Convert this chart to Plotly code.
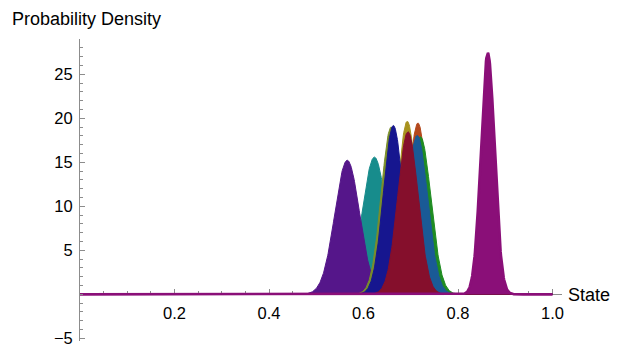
import numpy as np
import plotly.graph_objects as go

# Distribution parameters (drawing order: back to front)
names = ["teal", "purple", "yellowgreen", "olive", "orange", "green", "steelblue", "blue", "crimson", "magenta"]
means = [0.623, 0.5655, 0.6585, 0.6925, 0.715, 0.7205, 0.7136, 0.663, 0.694, 0.863]
sds = [0.0256, 0.0262, 0.0210, 0.0203, 0.0205, 0.0223, 0.0221, 0.0208, 0.0216, 0.01455]
colors = ["#178c8c", "#55168a", "#7a8e2a", "#a8921e", "#b4481c", "#1f8c22", "#1a5a96", "#16168f", "#850f2c", "#8a0f78"]
line_widths = [1, 1, 1, 1, 1, 1, 1, 1, 1, 2.6]

x_tick_vals = [0.2, 0.4, 0.6, 0.8, 1.0]
x_tick_text = ["0.2", "0.4", "0.6", "0.8", "1.0"]
y_tick_vals = [-5, 5, 10, 15, 20, 25]
y_tick_text = ["\u22125", "5", "10", "15", "20", "25"]

xs = np.linspace(0, 1, 1201)

fig = go.Figure()
for n, m, s, c, w in zip(names, means, sds, colors, line_widths):
    ys = np.exp(-0.5 * ((xs - m) / s) ** 2) / (s * np.sqrt(2 * np.pi))
    fig.add_trace(go.Scatter(x=xs, y=ys, mode="lines", name=n,
                             line=dict(color=c, width=w),
                             fill="tozeroy", fillcolor=c, hoverinfo="skip"))

y_lo, y_hi = -5.3, 29.0
axis_col = "#8c8c8c"
fam = "Liberation Sans, Arial, sans-serif"
tick_font = dict(family=fam, size=16.5, color="black")

# the page body has an 8px margin, so the figure is sized/offset to compensate
fig.update_layout(
    width=622, height=338,
    margin=dict(l=72, r=68, t=31, b=5),
    plot_bgcolor="white", paper_bgcolor="white",
    showlegend=False,
    font=tick_font,
    xaxis=dict(range=[0, 1.02], anchor="free", position=(0 - y_lo) / (y_hi - y_lo),
               automargin=False, layer="below traces",
               showgrid=False, zeroline=False, showline=True, linecolor=axis_col, linewidth=1,
               tickvals=x_tick_vals, ticktext=x_tick_text, ticks="inside", ticklen=5,
               tickcolor=axis_col, tickfont=tick_font, ticklabelstandoff=4,
               minor=dict(dtick=0.05, tick0=0, ticks="inside", ticklen=3, tickcolor=axis_col)),
    yaxis=dict(range=[y_lo, y_hi], automargin=False, ticklabeloverflow="allow",
               showgrid=False, zeroline=False, showline=True,
               linecolor=axis_col, linewidth=1,
               tickvals=y_tick_vals, ticktext=y_tick_text, ticks="inside", ticklen=5,
               tickcolor=axis_col, tickfont=tick_font, ticklabelstandoff=3,
               minor=dict(dtick=1, tick0=0, ticks="inside", ticklen=3, tickcolor=axis_col)),
    annotations=[
        dict(text="Probability Density", xref="paper", yref="paper",
             x=(10 - 80) / 482, y=(341 - 19) / 302, xanchor="left", yanchor="middle",
             showarrow=False, font=dict(family=fam, size=18, color="black")),
        dict(text="State", xref="paper", yref="paper",
             x=(566 - 80) / 482, y=(341 - 295) / 302, xanchor="left", yanchor="middle",
             showarrow=False, font=dict(family=fam, size=18, color="black")),
    ],
)

fig.write_html("out.html")
